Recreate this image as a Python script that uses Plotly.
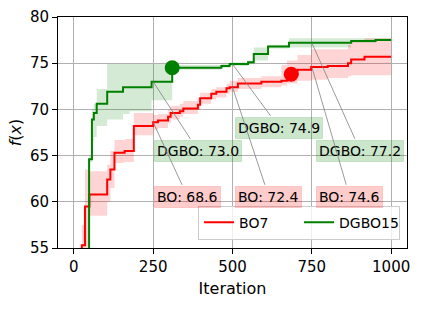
import plotly.graph_objects as go

# ---------------- data ----------------
bo_iter = [0, 25, 35, 49, 105, 115, 128, 160, 189, 250, 265, 297, 305, 334, 345, 391, 398,
           433, 449, 481, 491, 517, 591, 654, 672, 705, 748, 800, 864, 874, 916, 1000]
bo_mean = [50.0, 55.3, 59.5, 60.8, 62.4, 63.5, 65.3, 65.5, 68.2, 68.6, 68.8, 69.2, 69.6, 69.8, 70.1,
           70.5, 71.2, 71.7, 71.9, 72.3, 72.4, 72.8, 73.0, 73.1, 73.8, 74.3, 74.6, 74.7, 75.0, 75.4,
           75.7, 75.7]
bo_lo = [50.0, 55.0, 55.0, 58.5, 60.0, 61.5, 64.2, 64.3, 67.2, 67.8, 68.0, 68.5, 68.9, 69.2, 69.5,
         70.0, 70.6, 71.1, 71.3, 71.7, 71.9, 72.2, 72.4, 72.6, 72.8, 73.1, 73.2, 73.4, 73.6, 73.7,
         73.7, 73.7]
bo_hi = [50.0, 57.5, 63.5, 63.3, 64.0, 65.5, 66.7, 66.8, 69.6, 69.4, 69.5, 70.0, 70.4, 70.6, 70.9,
         71.2, 71.8, 72.2, 72.4, 72.8, 73.1, 73.4, 73.6, 74.8, 75.3, 75.9, 76.5, 76.5, 77.0, 77.3,
         77.7, 77.7]

dg_iter = [0, 48, 57, 63, 72, 105, 155, 176, 245, 310, 465, 491, 549, 567, 612, 678, 874, 951, 1000]
dg_mean = [45.0, 64.6, 68.9, 69.6, 70.6, 71.9, 72.4, 72.4, 73.0, 74.5, 74.7, 74.9, 75.1, 76.0, 76.8,
           77.2, 77.4, 77.5, 77.5]
dg_lo = [45.0, 64.3, 66.5, 67.0, 68.2, 68.9, 69.5, 69.8, 71.0, 74.3, 74.5, 74.7, 74.9, 75.3, 76.6,
         76.7, 77.2, 77.4, 77.4]
dg_hi = [45.0, 65.0, 70.0, 70.6, 72.2, 74.9, 74.9, 74.9, 74.9, 74.8, 74.9, 75.1, 75.3, 76.7, 77.0,
         77.7, 77.7, 77.7, 77.7]

annot_iters = [250, 500, 750]
bo_marker_x, bo_marker_y = [685], [73.8]
dg_marker_x, dg_marker_y = [310], [74.5]

x_ticks = [0, 250, 500, 750, 1000]
y_ticks = [55, 60, 65, 70, 75, 80]

FONT = "DejaVu Sans"


def step_value(iters, vals, t):
    v = vals[0]
    for i, y in zip(iters, vals):
        if i <= t:
            v = y
    return v


fig = go.Figure()


def add_band(iters, lo, hi, fillcolor):
    fig.add_trace(go.Scatter(x=iters, y=lo, mode="lines", line=dict(width=0, shape="hv"),
                             showlegend=False, hoverinfo="skip"))
    fig.add_trace(go.Scatter(x=iters, y=hi, mode="lines", line=dict(width=0, shape="hv"),
                             fill="tonexty", fillcolor=fillcolor, showlegend=False,
                             hoverinfo="skip"))


add_band(bo_iter, bo_lo, bo_hi, "rgba(255,0,0,0.17)")
add_band(dg_iter, dg_lo, dg_hi, "rgba(0,128,0,0.17)")

fig.add_trace(go.Scatter(x=bo_iter, y=bo_mean, mode="lines", name="BO7",
                         line=dict(color="red", width=2, shape="hv")))
fig.add_trace(go.Scatter(x=dg_iter, y=dg_mean, mode="lines", name="DGBO15",
                         line=dict(color="green", width=2, shape="hv")))

fig.add_trace(go.Scatter(x=dg_marker_x, y=dg_marker_y, mode="markers", showlegend=False,
                         marker=dict(color="green", size=15)))
fig.add_trace(go.Scatter(x=bo_marker_x, y=bo_marker_y, mode="markers", showlegend=False,
                         marker=dict(color="red", size=15)))

# text positions (iteration, value) for label boxes
dg_text_pos = [(392, 65.5), (648, 68.0), (903, 65.5)]
bo_text_pos = [(359, 60.5), (615, 60.5), (870, 60.5)]

for t, (tx, ty) in zip(annot_iters, dg_text_pos):
    v = step_value(dg_iter, dg_mean, t)
    fig.add_annotation(x=t, y=v, ax=tx, ay=ty, axref="x", ayref="y", xref="x", yref="y",
                       text=f"DGBO: {v:.1f}", showarrow=True, arrowhead=0, arrowwidth=0.8,
                       arrowcolor="gray", standoff=0, startstandoff=2,
                       bgcolor="rgba(0,128,0,0.2)", bordercolor="rgba(0,128,0,0.15)",
                       borderwidth=1, borderpad=2,
                       font=dict(family=FONT, size=14, color="black"))
for t, (tx, ty) in zip(annot_iters, bo_text_pos):
    v = step_value(bo_iter, bo_mean, t)
    fig.add_annotation(x=t, y=v, ax=tx, ay=ty, axref="x", ayref="y", xref="x", yref="y",
                       text=f"BO: {v:.1f}", showarrow=True, arrowhead=0, arrowwidth=0.8,
                       arrowcolor="gray", standoff=0, startstandoff=2,
                       bgcolor="rgba(255,0,0,0.2)", bordercolor="rgba(255,0,0,0.15)",
                       borderwidth=1, borderpad=2,
                       font=dict(family=FONT, size=14, color="black"))

axis_common = dict(showline=True, linecolor="black", linewidth=1, mirror=True,
                   ticks="outside", ticklen=5, tickcolor="black", tickwidth=1,
                   showgrid=True, gridcolor="#b0b0b0", gridwidth=0.8, zeroline=False,
                   automargin=False,
                   tickfont=dict(family=FONT, size=15, color="black"))

fig.update_xaxes(range=[-50, 1050], tickvals=x_ticks,
                 title=dict(text="Iteration", font=dict(family=FONT, size=16, color="black"),
                            standoff=7),
                 **axis_common)
fig.update_yaxes(range=[55, 80], tickvals=y_ticks,
                 title=dict(text="<i>f</i>(<i>x</i>)", font=dict(family=FONT, size=16, color="black"),
                            standoff=4),
                 **axis_common)

fig.update_layout(
    width=422, height=309,
    margin=dict(l=58, r=15, t=17, b=61),
    paper_bgcolor="white", plot_bgcolor="white",
    font=dict(family=FONT, color="black"),
    legend=dict(orientation="h", x=0.98, y=0.036, xanchor="right", yanchor="bottom",
                traceorder="normal",
                bgcolor="rgba(255,255,255,0.8)", bordercolor="#cccccc", borderwidth=1,
                font=dict(family=FONT, size=14, color="black"), entrywidth=55),
)

fig.write_html("out.html", config={"displayModeBar": False},
               post_script="document.body.style.margin='0';document.body.style.overflow='hidden';")
